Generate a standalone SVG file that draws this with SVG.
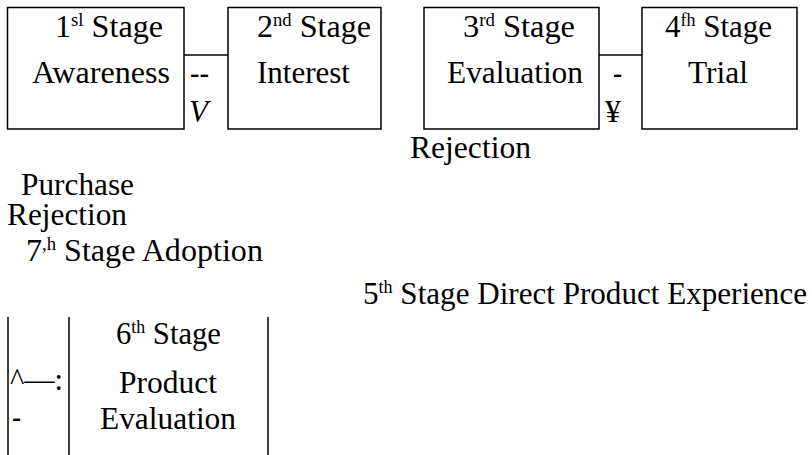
<svg xmlns="http://www.w3.org/2000/svg" width="812" height="455" viewBox="0 0 812 455" font-family="Liberation Serif, Times New Roman, serif" font-size="31">
  <style>
    .sup { font-size: 18px; }
    .box { fill: none; stroke: #000; stroke-width: 1.5; }
    .ln { stroke: #000; stroke-width: 1.5; fill: none; }
  </style>
  <rect width="812" height="455" fill="#fff"/>

  <!-- connectors between the stage boxes -->
  <g id="connectors">
    <line class="ln" x1="184" y1="55" x2="228" y2="55"/>
    <line class="ln" x1="599" y1="55" x2="642" y2="55"/>
    <text x="190" y="83" textLength="19" lengthAdjust="spacingAndGlyphs">--</text>
    <text x="189" y="122" font-style="italic" textLength="19" lengthAdjust="spacingAndGlyphs">V</text>
    <text x="613" y="83" textLength="9" lengthAdjust="spacingAndGlyphs">-</text>
    <text x="605" y="122" textLength="16" lengthAdjust="spacingAndGlyphs">¥</text>
    <text x="10" y="390" textLength="53" lengthAdjust="spacingAndGlyphs">^—:</text>
    <text x="12" y="427" textLength="9" lengthAdjust="spacingAndGlyphs">-</text>
  </g>

  <g id="stage1">
    <path class="box" d="M7.5 57 V7.5 H184 V129 H7.5 V57"/>
    <text x="55" y="37" textLength="108" lengthAdjust="spacingAndGlyphs">1<tspan class="sup" dy="-11">sl</tspan><tspan dy="11"> Stage</tspan></text>
    <text x="32" y="83" textLength="138" lengthAdjust="spacingAndGlyphs">Awareness</text>
  </g>

  <g id="stage2">
    <rect class="box" x="228" y="7.5" width="153" height="121.5"/>
    <text x="257" y="37" textLength="114" lengthAdjust="spacingAndGlyphs">2<tspan class="sup" dy="-11">nd</tspan><tspan dy="11"> Stage</tspan></text>
    <text x="257" y="83" textLength="93" lengthAdjust="spacingAndGlyphs">Interest</text>
  </g>

  <g id="stage3">
    <rect class="box" x="424" y="7.5" width="175" height="121.5"/>
    <text x="463" y="37" textLength="112" lengthAdjust="spacingAndGlyphs">3<tspan class="sup" dy="-11">rd</tspan><tspan dy="11"> Stage</tspan></text>
    <text x="447" y="83" textLength="136" lengthAdjust="spacingAndGlyphs">Evaluation</text>
  </g>

  <g id="stage4">
    <rect class="box" x="642" y="7.5" width="155" height="121.5"/>
    <text x="665" y="37" textLength="107" lengthAdjust="spacingAndGlyphs">4<tspan class="sup" dy="-11">fh</tspan><tspan dy="11"> Stage</tspan></text>
    <text x="688" y="83" textLength="60" lengthAdjust="spacingAndGlyphs">Trial</text>
  </g>

  <g id="rejection-right">
    <text x="410" y="158" textLength="121" lengthAdjust="spacingAndGlyphs">Rejection</text>
  </g>

  <g id="purchase">
    <text x="21" y="195" textLength="113" lengthAdjust="spacingAndGlyphs">Purchase</text>
  </g>

  <g id="rejection-left">
    <text x="7" y="225" textLength="120" lengthAdjust="spacingAndGlyphs">Rejection</text>
  </g>

  <g id="stage7">
    <text x="26" y="261" textLength="237" lengthAdjust="spacingAndGlyphs">7<tspan class="sup" dy="-11">,h</tspan><tspan dy="11"> Stage Adoption</tspan></text>
  </g>

  <g id="stage5">
    <text x="363" y="304" textLength="444" lengthAdjust="spacingAndGlyphs">5<tspan class="sup" dy="-11">th</tspan><tspan dy="11"> Stage Direct Product Experience</tspan></text>
  </g>

  <g id="stage6">
    <line class="ln" x1="8" y1="317" x2="8" y2="455"/>
    <line class="ln" x1="69" y1="317" x2="69" y2="455"/>
    <line class="ln" x1="268" y1="317" x2="268" y2="455"/>
    <text x="116" y="344" textLength="105" lengthAdjust="spacingAndGlyphs">6<tspan class="sup" dy="-11">th</tspan><tspan dy="11"> Stage</tspan></text>
    <text x="119" y="393" textLength="98" lengthAdjust="spacingAndGlyphs">Product</text>
    <text x="100" y="429" textLength="136" lengthAdjust="spacingAndGlyphs">Evaluation</text>
  </g>
</svg>
